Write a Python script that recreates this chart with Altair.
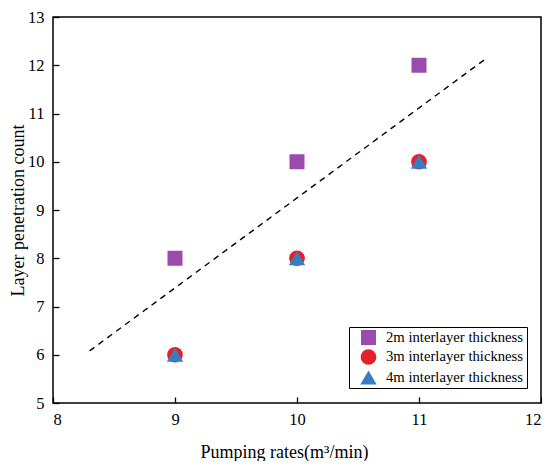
import altair as alt
import pandas as pd

# data
pump_rates = [9, 10, 11]
series_2m = [8, 10, 12]
series_3m = [6, 8, 10]
series_4m = [6, 8, 10]
series_names = ["2m interlayer thickness", "3m interlayer thickness", "4m interlayer thickness"]
series_colors = ["#9B4AAE", "#E5202A", "#377EC1"]
series_shapes = ["square", "circle", "triangle-up"]
series_sizes = [225, 270, 190]
fit_x = [8.3, 11.55]
fit_y = [6.08, 12.14]
x_ticks = [8, 9, 10, 11, 12]
y_ticks = [5, 6, 7, 8, 9, 10, 11, 12, 13]

rows = []
for name, vals in zip(series_names, [series_2m, series_3m, series_4m]):
    for x, y in zip(pump_rates, vals):
        rows.append({"x": x, "y": y, "series": name})
df = pd.DataFrame(rows)
line_df = pd.DataFrame({"x": fit_x, "y": fit_y})

FONT = "Liberation Serif"
H = 386

xscale = alt.Scale(domain=[8, 12], nice=False)
yscale = alt.Scale(domain=[5, 13], nice=False)

xaxis = alt.Axis(
    title="Pumping rates(m³/min)", values=x_ticks, format="d", grid=False,
    domain=False, offset=-6, tickSize=6, tickColor="black", tickWidth=1.3,
    labelFont=FONT, labelFontSize=16.5, labelColor="black", labelPadding=8,
    titleFont=FONT, titleFontSize=18, titleFontWeight="normal", titleColor="black",
    titleX=231, titleY=60, titleBaseline="alphabetic",
)
yaxis = alt.Axis(
    title="Layer penetration count", values=y_ticks, format="d", grid=False,
    domain=False, offset=-6, tickSize=6, tickColor="black", tickWidth=1.3,
    labelFont=FONT, labelFontSize=16.5, labelColor="black", labelPadding=9,
    titleFont=FONT, titleFontSize=18, titleFontWeight="normal", titleColor="black",
    titleX=-41, titleY=H / 2, titleBaseline="middle", titleAlign="center", titleAngle=-90,
)

line = alt.Chart(line_df).mark_line(color="black", strokeDash=[6, 5], strokeWidth=1.4).encode(
    x=alt.X("x:Q", scale=xscale, axis=xaxis),
    y=alt.Y("y:Q", scale=yscale, axis=yaxis),
)

points = alt.Chart(df).mark_point(filled=True, opacity=1).encode(
    x=alt.X("x:Q", scale=xscale),
    y=alt.Y("y:Q", scale=yscale),
    color=alt.Color("series:N", scale=alt.Scale(domain=series_names, range=series_colors),
                    legend=alt.Legend(
                        title=None, orient="none", legendX=296, legendY=H - 76,
                        strokeColor="black", fillColor="white", padding=3,
                        symbolOffset=8, labelOffset=9, rowPadding=4,
                        labelFont=FONT, labelFontSize=14.7, labelColor="black",
                        symbolSize=230, symbolStrokeWidth=0, symbolOpacity=1,
                    )),
    shape=alt.Shape("series:N", scale=alt.Scale(domain=series_names, range=series_shapes)),
    size=alt.Size("series:N", scale=alt.Scale(domain=series_names, range=series_sizes), legend=None),
)

chart = alt.layer(points, line).properties(
    width=488, height=H,
    autosize=alt.AutoSizeParams(type="none"),
    padding={"left": 45, "top": 9, "right": 1, "bottom": 58},
    background="white",
).configure(font=FONT).configure_axis(
    labelFont=FONT, titleFont=FONT
).configure_legend(labelFont=FONT).configure_view(stroke="black", strokeWidth=1.5)

chart.save("out.html", embed_options={"renderer": "svg", "actions": False})
